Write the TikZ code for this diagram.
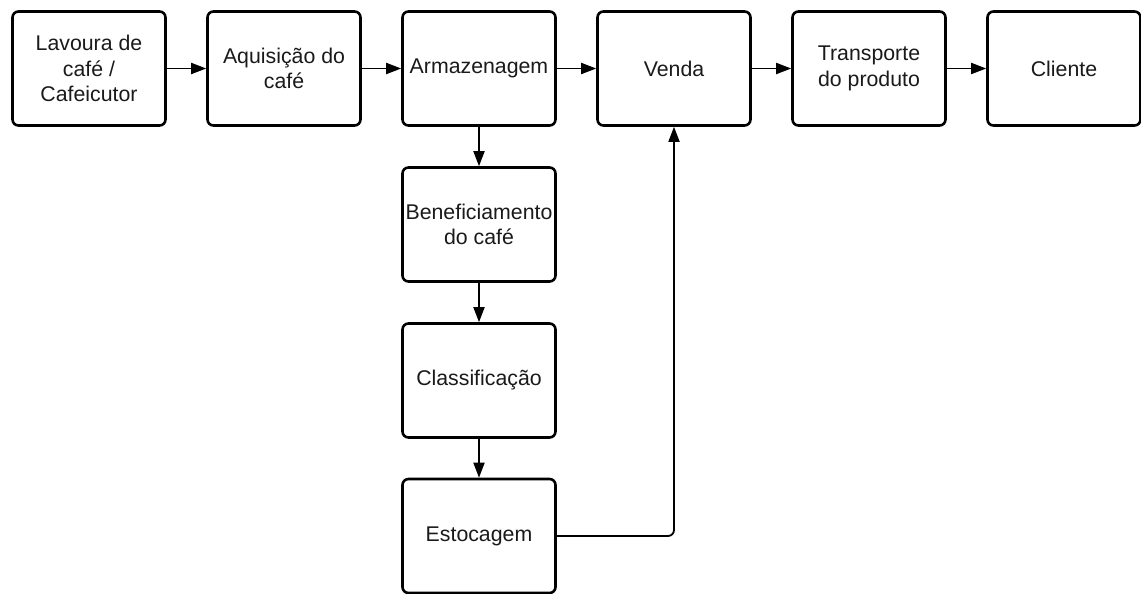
\documentclass[tikz,border=0pt]{standalone}
\usepackage{fontspec}
\setmainfont{Liberation Sans}
\usetikzlibrary{arrows.meta}
\definecolor{ink}{HTML}{1A1A1A}
\begin{document}
\begin{tikzpicture}[x=1pt,y=-1pt,
  stagebox/.style={draw=black, line width=2.6pt, rounded corners=6pt, fill=white,
    minimum width=153pt, minimum height=114pt, inner sep=0pt, align=center,
    text=ink, font=\fontsize{21.3}{25.6}\selectfont},
  flow/.style={line width=1.8pt, -{Triangle[length=15pt,width=11pt]}}]
  \useasboundingbox (0,0) rectangle (1141,594);
  % main chain along the top row
  \node[stagebox] (lavoura) at (89,68.5) {Lavoura de\\café /\\Cafeicutor};
  \node[stagebox] (aquis) at (284,68.5) {Aquisição do\\café};
  \node[stagebox] (armaz) at (479,68.5) {Armazenagem};
  \node[stagebox] (venda) at (674,68.5) {Venda};
  \node[stagebox] (transp) at (869,68.5) {Transporte\\do produto};
  \node[stagebox] (cliente) at (1064,68.5) {Cliente};
  % processing branch below the warehouse
  \node[stagebox] (benef) at (479,224.5) {Beneficiamento\\do café};
  \node[stagebox] (classif) at (479,380.5) {Classificação};
  \node[stagebox] (estoc) at (479,536) {Estocagem};
  % connectors
  \draw[flow] (lavoura) -- (aquis);
  \draw[flow] (aquis) -- (armaz);
  \draw[flow] (armaz) -- (venda);
  \draw[flow] (venda) -- (transp);
  \draw[flow] (transp) -- (cliente);
  \draw[flow] (armaz) -- (benef);
  \draw[flow] (benef) -- (classif);
  \draw[flow] (classif) -- (estoc);
  \draw[flow, rounded corners=6pt] (estoc.east) -| (venda.south);
\end{tikzpicture}
\end{document}
